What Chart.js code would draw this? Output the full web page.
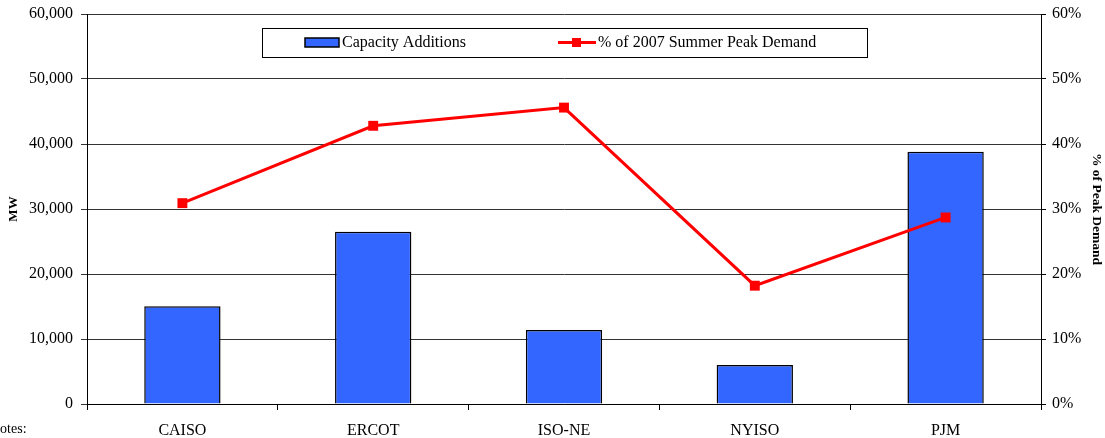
<!DOCTYPE html>
<html>
<head>
<meta charset="utf-8">
<script src="https://cdn.jsdelivr.net/npm/chart.js@4"></script>
<style>
  html, body { margin: 0; padding: 0; background: #fff; }
  #wrap { width: 1105px; height: 438px; }
</style>
</head>
<body>
<div id="wrap"><canvas id="capChart" width="1105" height="438"></canvas></div>
<script>
// ISO/RTO capacity additions vs. share of summer peak
const regions = ["CAISO", "ERCOT", "ISO-NE", "NYISO", "PJM"];
const capacityMW = [15050, 26500, 11400, 6000, 38800];
const pctPeak = [30.9, 42.8, 45.6, 18.2, 28.7];
const mwTicks = [0, 10000, 20000, 30000, 40000, 50000, 60000];
const pctTicks = [0, 10, 20, 30, 40, 50, 60];

const SERIF = "'Liberation Serif', 'Times New Roman', serif";
const BLUE = "#3366FF";
const RED = "#FF0000";

// legend box sits inside the plot, plus the "Notes:" line at the bottom
const boxLegend = {
  id: "boxLegend",
  afterDraw(chart) {
    const c = chart.ctx;
    const barDs = chart.data.datasets.find(d => d.type === "bar");
    const lineDs = chart.data.datasets.find(d => d.type === "line");
    c.save();
    c.fillStyle = "#fff";
    c.fillRect(262, 28, 605, 29);
    c.strokeStyle = "#000";
    c.lineWidth = 1;
    c.strokeRect(262.5, 28.5, 605, 29);

    // bar swatch
    c.fillStyle = BLUE;
    c.fillRect(305, 38, 34, 9);
    c.lineWidth = 1.5;
    c.strokeRect(305, 38, 34, 9);

    // line swatch
    c.strokeStyle = RED;
    c.lineWidth = 3;
    c.beginPath();
    c.moveTo(558, 42.5);
    c.lineTo(596, 42.5);
    c.stroke();
    c.fillStyle = RED;
    c.fillRect(572, 38, 9, 9);

    c.fillStyle = "#000";
    c.font = "16px " + SERIF;
    c.textBaseline = "middle";
    c.textAlign = "left";
    c.fillText(barDs.label, 342, 43);
    c.fillText(lineDs.label, 598, 43);

    c.font = "14px " + SERIF;
    c.fillText("Notes:", -10, 429);
    c.restore();
  }
};

// fixed axis sizes so the plot area lands at 87..1041 x 14..404
const fixVertical = w => s => { s.width = w; s.paddingTop = 0; s.paddingBottom = 0; };

new Chart(document.getElementById("capChart"), {
  type: "bar",
  data: {
    labels: regions,
    datasets: [
      {
        type: "line",
        label: "% of 2007 Summer Peak Demand",
        data: pctPeak,
        yAxisID: "y1",
        borderColor: RED,
        borderWidth: 3,
        backgroundColor: RED,
        pointStyle: "rect",
        pointRadius: 7,
        pointBorderWidth: 0,
        tension: 0,
        order: 1
      },
      {
        type: "bar",
        label: "Capacity Additions",
        data: capacityMW,
        yAxisID: "y",
        backgroundColor: BLUE,
        borderColor: "#000",
        borderWidth: 1.5,
        barPercentage: 0.4,
        categoryPercentage: 1.0,
        order: 2
      }
    ]
  },
  options: {
    responsive: false,
    animation: false,
    layout: { padding: { top: 14, left: 0, right: 0, bottom: 0 } },
    plugins: {
      legend: { display: false },
      tooltip: { enabled: false }
    },
    scales: {
      x: {
        offset: true,
        grid: { offset: true, drawOnChartArea: false, drawTicks: true, tickLength: 6, color: "#000" },
        border: { color: "#000", width: 1 },
        ticks: { color: "#000", font: { family: SERIF, size: 16 }, padding: 11 },
        afterFit: s => { s.height = 34; s.paddingLeft = 0; s.paddingRight = 0; }
      },
      y: {
        position: "left",
        min: 0,
        max: 60000,
        afterBuildTicks: s => { s.ticks = mwTicks.map(v => ({ value: v })); },
        grid: { color: "#333", tickLength: 6, drawTicks: true },
        border: { color: "#000", width: 1 },
        ticks: {
          color: "#000",
          padding: 8,
          font: { family: SERIF, size: 16 },
          callback: v => v.toLocaleString("en-US")
        },
        title: {
          display: true,
          text: "MW",
          color: "#000",
          font: { family: SERIF, size: 13, weight: "bold" },
          padding: { top: 6, bottom: 0 }
        },
        afterFit: fixVertical(87)
      },
      y1: {
        position: "right",
        min: 0,
        max: 60,
        afterBuildTicks: s => { s.ticks = pctTicks.map(v => ({ value: v })); },
        grid: { drawOnChartArea: false, tickLength: 5, color: "#000" },
        border: { color: "#000", width: 1 },
        ticks: {
          color: "#000",
          padding: 6,
          font: { family: SERIF, size: 16 },
          callback: v => v + "%"
        },
        title: {
          display: true,
          text: "% of Peak Demand",
          color: "#000",
          font: { family: SERIF, size: 13.5, weight: "bold" },
          padding: { top: 0, bottom: 0 }
        },
        afterFit: fixVertical(64)
      }
    }
  },
  plugins: [boxLegend]
});
</script>
</body>
</html>
